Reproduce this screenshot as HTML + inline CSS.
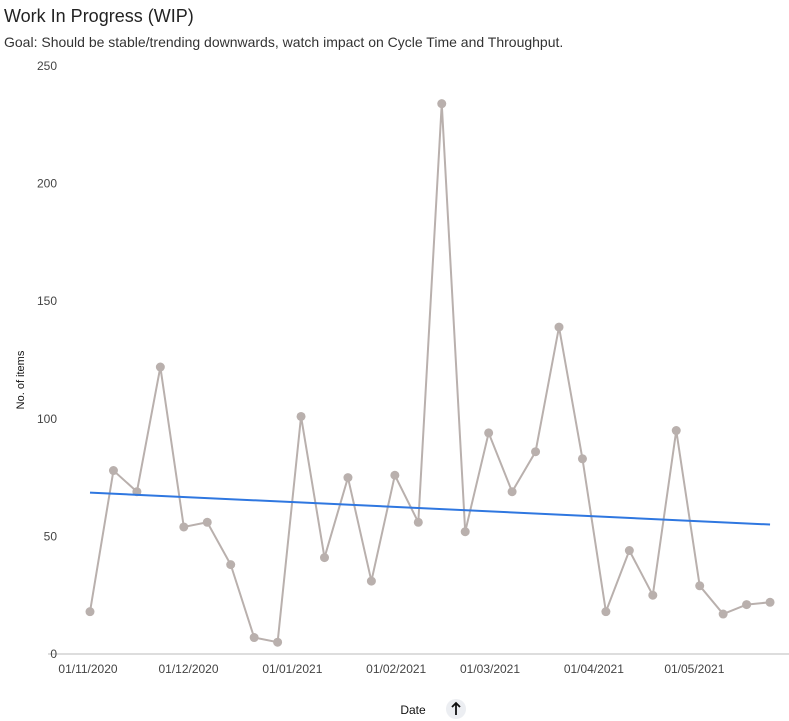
<!DOCTYPE html>
<html><head><meta charset="utf-8"><style>
body{margin:0;background:#fff;font-family:"Liberation Sans",sans-serif;}
#wrap{position:relative;width:789px;height:721px;overflow:hidden}
.t{position:absolute;left:4px;top:6px;font-size:18px;color:#222}
.s{position:absolute;left:4px;top:34px;font-size:14px;color:#333}
</style></head><body>
<div id="wrap">
<div class="t">Work In Progress (WIP)</div>
<div class="s">Goal: Should be stable/trending downwards, watch impact on Cycle Time and Throughput.</div>
<svg id="svg" width="789" height="721" style="position:absolute;left:0;top:0"></svg>
</div>
<script>
const startDate = "2020-11-01";
const wipValues = [18,78,69,122,54,56,38,7,5,101,41,75,31,76,56,234,52,94,69,86,139,83,18,44,25,95,29,17,21,22];
const yTicks = [0,50,100,150,200,250];
const xTickLabels = ["01/11/2020","01/12/2020","01/01/2021","01/02/2021","01/03/2021","01/04/2021","01/05/2021"];
const xTickDates = ["2020-11-01","2020-12-01","2021-01-01","2021-02-01","2021-03-01","2021-04-01","2021-05-01"];

const svg=document.getElementById('svg');const NS='http://www.w3.org/2000/svg';
function mk(tag,attrs,parent){const e=document.createElementNS(NS,tag);for(const k in attrs)e.setAttribute(k,attrs[k]);(parent||svg).appendChild(e);return e;}
const DAY=86400000, t0=Date.parse(startDate);
function xDays(d){return 90+d*3.35;}
function xDate(s){return xDays((Date.parse(s)-t0)/DAY);}
function y(v){return 654-v*2.352;}

mk('line',{x1:48,x2:789,y1:654,y2:654,stroke:'#ddd','stroke-width':2});
yTicks.forEach(v=>{const t=mk('text',{x:57,y:y(v)+4,'text-anchor':'end','font-size':12,fill:'#444'});t.textContent=v;

});
xTickLabels.forEach((l,i)=>{const t=mk('text',{x:xDate(xTickDates[i])-2,y:673,'text-anchor':'middle','font-size':12,fill:'#444'});t.textContent=l;

});
const yl=mk('text',{x:24,y:380,'text-anchor':'middle','font-size':11,fill:'#111',transform:'rotate(-90 24 380)'});yl.textContent='No. of items';


const xl=mk('text',{x:413,y:714,'text-anchor':'middle','font-size':12,fill:'#111'});xl.textContent='Date';


const sb=mk('g',{});


mk('circle',{cx:456,cy:709,r:10,fill:'#eceef2'},sb);
mk('path',{d:'M456 715 V703 M452 707 L456 703 L460 707',stroke:'#111','stroke-width':1.8,fill:'none'},sb);

const pts=wipValues.map((v,i)=>[xDays(i*7),y(v)]);
const line=mk('polyline',{points:pts.map(p=>p.join(',')).join(' '),fill:'none',stroke:'#b9b0ad','stroke-width':2});


pts.forEach(p=>{const c=mk('circle',{cx:p[0],cy:p[1],r:4.5,fill:'#b9b0ad'});

});
// linear trend
const n=wipValues.length;let sx=0,sy=0,sxy=0,sxx=0;
wipValues.forEach((v,i)=>{sx+=i;sy+=v;sxy+=i*v;sxx+=i*i;});
const b=(n*sxy-sx*sy)/(n*sxx-sx*sx),a=(sy-b*sx)/n;
const tr=mk('line',{x1:xDays(0),y1:y(a),x2:xDays((n-1)*7),y2:y(a+b*(n-1)),stroke:'#2f77e0','stroke-width':2});


</script>
</body></html>
